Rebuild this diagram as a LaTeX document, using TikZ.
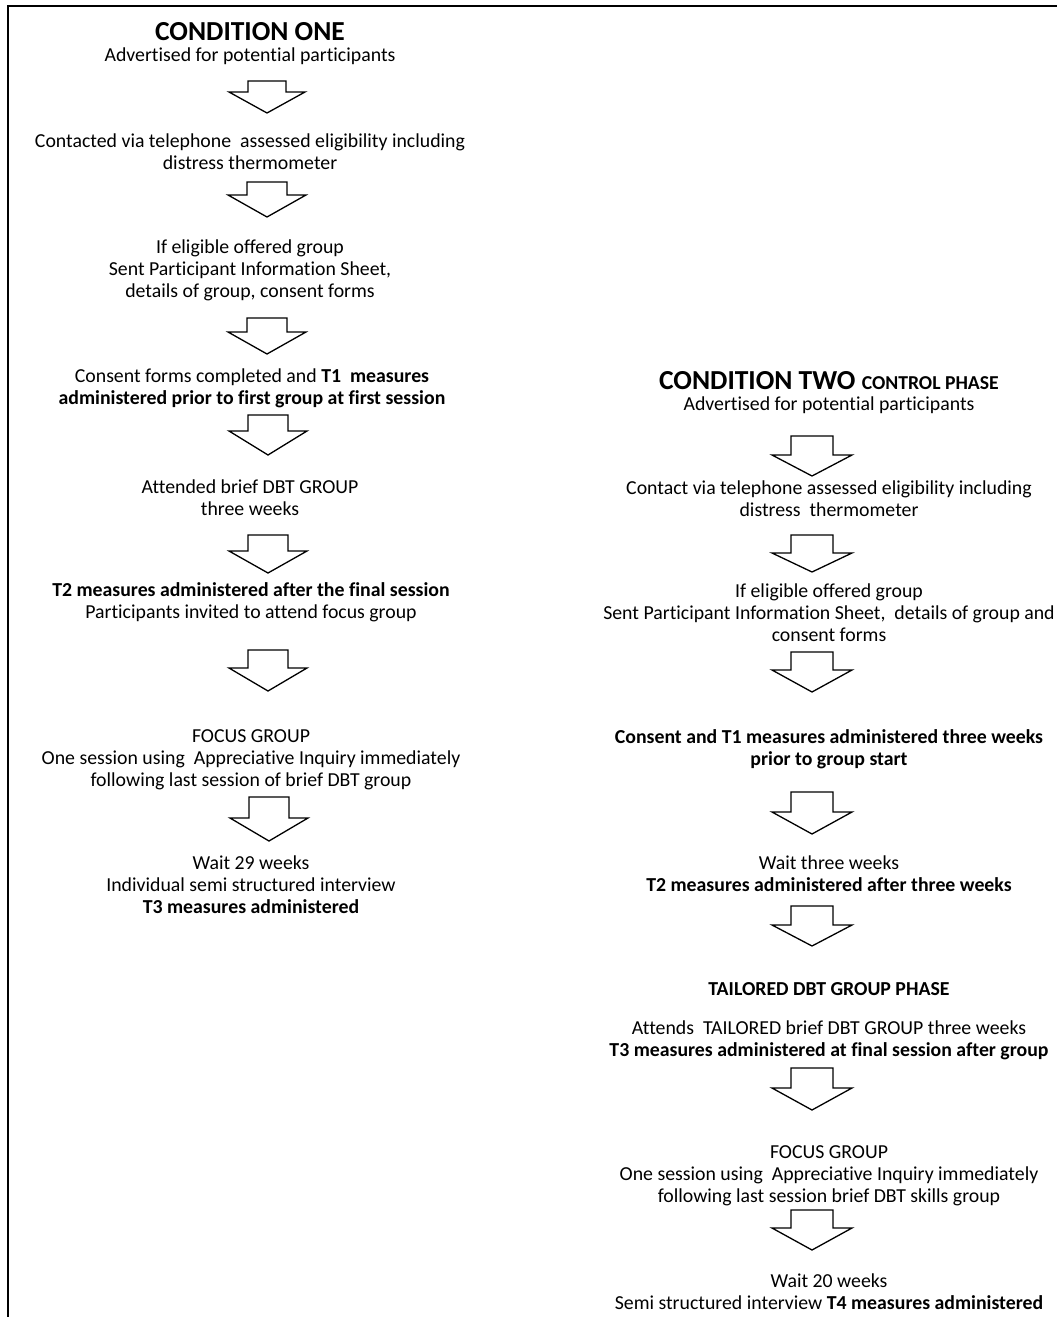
\documentclass[tikz,border=0pt]{standalone}
\usepackage{fontspec}
\setmainfont{Carlito}[Ligatures=NoCommon]
\begin{document}
\begin{tikzpicture}[x=1pt,y=-1pt,
  txt/.style={inner sep=0pt,align=center,font=\fontsize{19.8}{22}\selectfont},
  ttl/.style={inner sep=0pt,align=center,font=\fontsize{27.5}{30}\selectfont\bfseries},
  blockarrow/.style={draw=black,line width=1.3pt,fill=white,line join=miter}]
\useasboundingbox (0,0) rectangle (1057,1317);
% frame (left and top edges)
\draw[line width=2pt] (8,1317) -- (8,6) -- (1057,6);

% ---- arrow macro: cx, top, base, tip, shaft half, head half
\newcommand{\dnarrow}[6]{%
  \draw[blockarrow] ({#1-#5},#2) -- ({#1+#5},#2) -- ({#1+#5},#3) -- ({#1+#6},#3)
    -- (#1,#4) -- ({#1-#6},#3) -- ({#1-#5},#3) -- cycle;}

% ---------------- CONDITION ONE ----------------
\node[ttl] (t1) at (250,32) {CONDITION ONE};
\node[txt] (a1) at (250,56) {Advertised for potential participants};
\node[txt] (a2) at (250,152) {Contacted via telephone\ \ assessed eligibility including\\distress thermometer};
\node[txt] (a3) at (250,270) {If eligible offered group\\Sent Participant Information Sheet,\\details of group, consent forms};
\node[txt] (a4) at (252,388) {Consent forms completed and \textbf{T1\ \ measures}\\\textbf{administered prior to first group at first session}};
\node[txt] (a5) at (250,498) {Attended brief DBT GROUP\\three weeks};
\node[txt] (a6) at (251,602) {\textbf{T2 measures administered after the final session}\\Participants invited to attend focus group};
\node[txt] (a7) at (251,760) {FOCUS GROUP\\One session using\ \ Appreciative Inquiry immediately\\following last session of brief DBT group};
\node[txt] (a8) at (251,885) {Wait 29 weeks\\Individual semi structured interview\\\textbf{T3 measures administered}};

\dnarrow{267}{81}{92}{113}{19}{38}
\dnarrow{267}{182}{195}{217}{20}{39}
\dnarrow{267}{318}{332}{354}{20}{39}
\dnarrow{268}{415}{431}{455}{20}{39}
\dnarrow{268}{535}{551}{573}{20}{39}
\dnarrow{268}{650}{668}{691}{20}{39}
\dnarrow{269}{797}{818}{841}{20}{39}

% ---------------- CONDITION TWO ----------------
\node[ttl] (t2) at (829,381) {CONDITION TWO {\fontsize{19.7}{22}\selectfont CONTROL PHASE}};
\node[txt] (b1) at (829,405) {Advertised for potential participants};
\node[txt] (b2) at (829,499) {Contact via telephone assessed eligibility including\\distress\ \ thermometer};
\node[txt] (b3) at (829,613) {If eligible offered group\\Sent Participant Information Sheet,\ \ details of group and\\consent forms};
\node[txt] (b4) at (829,749) {\textbf{Consent and T1 measures administered three weeks}\\\textbf{prior to group start}};
\node[txt] (b5) at (829,874) {Wait three weeks\\\textbf{T2 measures administered after three weeks}};
\node[txt,font=\fontsize{19.8}{22}\selectfont\bfseries] (b6) at (829,989) {TAILORED DBT GROUP PHASE};
\node[txt] (b7) at (829,1040) {Attends\ \ TAILORED brief DBT GROUP three weeks\\\textbf{T3 measures administered at final session after group}};
\node[txt] (b8) at (829,1176) {FOCUS GROUP\\One session using\ \ Appreciative Inquiry immediately\\following last session brief DBT skills group};
\node[txt] (b9) at (829,1292) {Wait 20 weeks\\Semi structured interview \textbf{T4 measures administered}};

\dnarrow{812}{436}{455}{476}{21}{40}
\dnarrow{812}{535}{553}{572}{21}{40}
\dnarrow{812}{652}{670}{692}{21}{40}
\dnarrow{812}{792}{812}{834}{21}{40}
\dnarrow{812}{906}{925}{946}{21}{40}
\dnarrow{812}{1068}{1088}{1110}{21}{40}
\dnarrow{812}{1210}{1228}{1250}{21}{40}
\end{tikzpicture}
\end{document}
